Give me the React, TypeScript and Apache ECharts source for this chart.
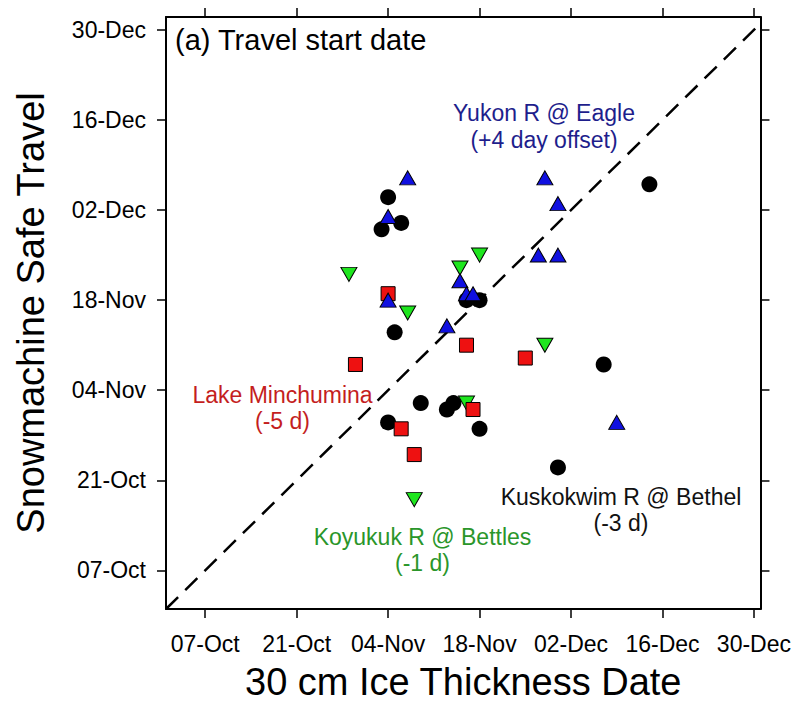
import React, { useEffect, useRef } from 'react';
import * as echarts from 'echarts';

// Day numbers counted from 1 October (01-Oct = 0, 01-Nov = 31, 01-Dec = 61)
const tickDays = [6, 20, 34, 48, 62, 76, 90];
const tickLabels = ['07-Oct', '21-Oct', '04-Nov', '18-Nov', '02-Dec', '16-Dec', '30-Dec'];

// Kuskokwim R @ Bethel (black circles)
const kuskokwimIce = [34, 36, 33, 46, 48, 35, 39, 44, 43, 34, 48, 74, 67, 60];
const kuskokwimTravel = [64, 60, 59, 48, 48, 43, 32, 32, 31, 29, 28, 66, 38, 22];

// Koyukuk R @ Bettles (green down triangles)
const koyukukIce = [28, 37, 48, 45, 46, 38, 58];
const koyukukTravel = [52, 46, 55, 53, 32, 17, 41];

// Lake Minchumina (red squares)
const minchuminaIce = [34, 46, 29, 47, 36, 38, 55];
const minchuminaTravel = [49, 41, 38, 31, 28, 24, 39];

// Yukon R @ Eagle (blue triangles)
const yukonIce = [37, 34, 34, 45, 46, 47, 43, 58, 60, 57, 60, 69];
const yukonTravel = [67, 61, 48, 51, 49, 49, 44, 67, 63, 55, 55, 29];

// 1:1 line
const oneToOne = [0, 92];

const FONT = '"Liberation Sans", Arial, Helvetica, sans-serif';

const pair = (xs: number[], ys: number[]) => xs.map((x, i) => [x, ys[i]]);

const fmt = (v: number) => {
  const i = tickDays.indexOf(Math.round(v));
  return i >= 0 ? tickLabels[i] : '';
};

function makeAxis(position: string, min: number, max: number, showLabels: boolean, extra: any = {}) {
  return {
    type: 'value',
    position,
    min,
    max,
    axisLine: { show: true, onZero: false, lineStyle: { color: '#000', width: 2 } },
    axisTick: {
      show: true,
      inside: false,
      length: 9,
      customValues: tickDays,
      lineStyle: { color: '#000', width: 1.5 },
    },
    axisLabel: {
      show: showLabels,
      customValues: tickDays,
      formatter: fmt,
      color: '#000',
      fontSize: 23,
      fontFamily: FONT,
      showMinLabel: true,
      showMaxLabel: true,
    },
    splitLine: { show: false },
    ...extra,
  };
}

export default function App() {
  const ref = useRef<HTMLDivElement>(null);

  useEffect(() => {
    if (!ref.current) return;
    const chart = echarts.init(ref.current, undefined, { renderer: 'svg' });
    const nameStyle = { color: '#000', fontSize: 38, fontFamily: FONT };
    const option: any = {
      animation: false,
      backgroundColor: '#fff',
      textStyle: { fontFamily: FONT },
      grid: { left: 166, top: 17, width: 596, height: 596, containLabel: false },
      xAxis: [
        makeAxis('bottom', 0, 91, true, {
          name: '30 cm Ice Thickness Date',
          nameLocation: 'middle',
          nameGap: 54,
          nameTextStyle: nameStyle,
          axisLabel: {
            show: true,
            customValues: tickDays,
            formatter: fmt,
            color: '#000',
            fontSize: 23,
            fontFamily: FONT,
            margin: 23,
          },
        }),
        makeAxis('top', 0, 91, false),
      ],
      yAxis: [
        makeAxis('left', 0, 92, true, {
          name: 'Snowmachine Safe Travel',
          nameLocation: 'middle',
          nameGap: 116,
          nameTextStyle: nameStyle,
          axisLabel: {
            show: true,
            customValues: tickDays,
            formatter: fmt,
            color: '#000',
            fontSize: 23,
            fontFamily: FONT,
            margin: 20,
          },
        }),
        makeAxis('right', 0, 92, false),
      ],
      graphic: [
        {
          type: 'text',
          x: 175,
          y: 40,
          style: {
            text: '(a) Travel start date',
            fontSize: 29,
            fontFamily: FONT,
            fill: '#000',
            align: 'left',
            verticalAlign: 'middle',
          },
        },
        {
          type: 'text',
          x: 544,
          y: 126.5,
          style: {
            text: 'Yukon R @ Eagle\n(+4 day offset)',
            fontSize: 23,
            lineHeight: 27,
            fontFamily: FONT,
            fill: '#1e1e8c',
            align: 'center',
            verticalAlign: 'middle',
          },
        },
        {
          type: 'text',
          x: 282.5,
          y: 407.5,
          style: {
            text: 'Lake Minchumina\n(-5 d)',
            fontSize: 23,
            lineHeight: 26,
            fontFamily: FONT,
            fill: '#c41e1e',
            align: 'center',
            verticalAlign: 'middle',
          },
        },
        {
          type: 'text',
          x: 422.5,
          y: 549.5,
          style: {
            text: 'Koyukuk R @ Bettles\n(-1 d)',
            fontSize: 23,
            lineHeight: 26,
            fontFamily: FONT,
            fill: '#2a962a',
            align: 'center',
            verticalAlign: 'middle',
          },
        },
        {
          type: 'text',
          x: 621,
          y: 510,
          style: {
            text: 'Kuskokwim R @ Bethel\n(-3 d)',
            fontSize: 23,
            lineHeight: 26,
            fontFamily: FONT,
            fill: '#111',
            align: 'center',
            verticalAlign: 'middle',
          },
        },
      ],
      series: [
        {
          type: 'line',
          name: '1:1',
          data: pair(oneToOne, oneToOne),
          showSymbol: false,
          symbol: 'none',
          clip: true,
          silent: true,
          lineStyle: { color: '#000', width: 2.5, type: [17, 10] },
          z: 1,
        },
        {
          type: 'scatter',
          name: 'Kuskokwim R @ Bethel',
          data: pair(kuskokwimIce, kuskokwimTravel),
          symbol: 'circle',
          symbolSize: 16,
          itemStyle: { color: '#000', opacity: 1 },
          z: 2,
        },
        {
          type: 'scatter',
          name: 'Koyukuk R @ Bettles',
          data: pair(koyukukIce, koyukukTravel),
          symbol: 'triangle',
          symbolRotate: 180,
          symbolSize: [16, 14],
          itemStyle: { color: '#1ee61e', borderColor: '#000', borderWidth: 1, opacity: 1 },
          z: 3,
        },
        {
          type: 'scatter',
          name: 'Lake Minchumina',
          data: pair(minchuminaIce, minchuminaTravel),
          symbol: 'rect',
          symbolSize: 14,
          itemStyle: { color: '#ee1111', borderColor: '#000', borderWidth: 1, opacity: 1 },
          z: 4,
        },
        {
          type: 'scatter',
          name: 'Yukon R @ Eagle',
          data: pair(yukonIce, yukonTravel),
          symbol: 'triangle',
          symbolSize: [16, 14],
          itemStyle: { color: '#1010e0', borderColor: '#000', borderWidth: 1, opacity: 1 },
          z: 5,
        },
      ],
    };
    chart.setOption(option);
    return () => chart.dispose();
  }, []);

  return (
    <div
      ref={ref}
      style={{ position: 'absolute', left: 0, top: 0, width: 794, height: 706, background: '#fff' }}
    />
  );
}
